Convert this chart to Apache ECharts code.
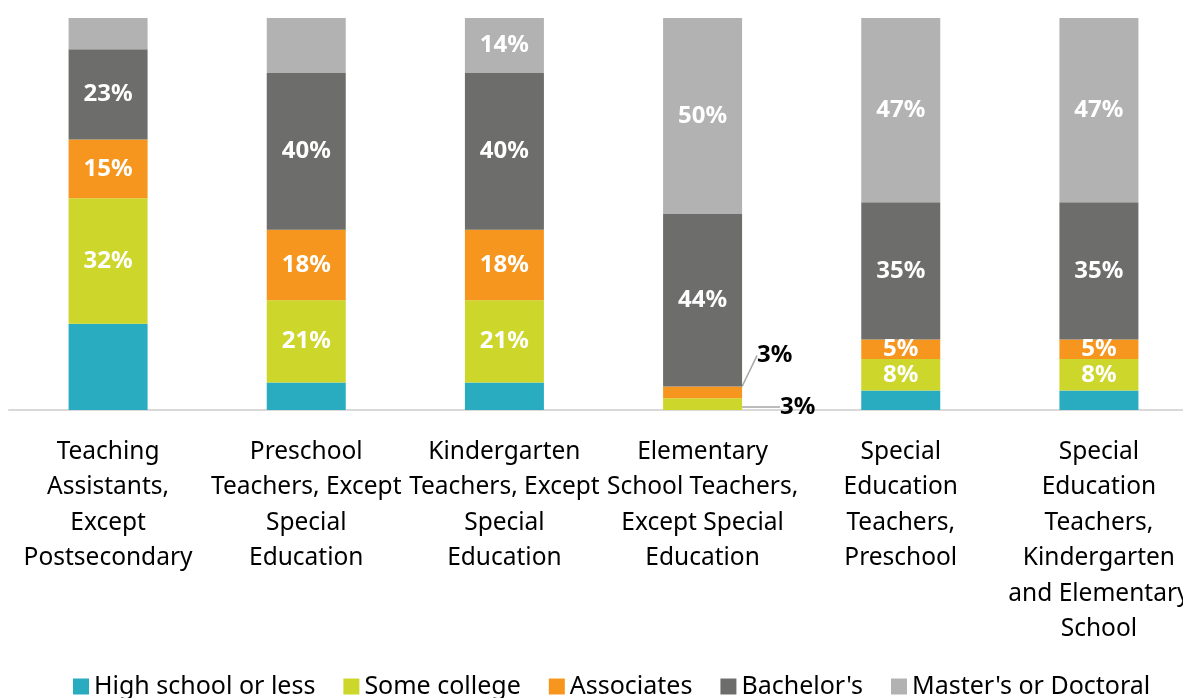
<!DOCTYPE html>
<html><head><meta charset="utf-8">
<script src="https://cdn.jsdelivr.net/npm/echarts@6/dist/echarts.min.js"></script>
<style>html,body{margin:0;padding:0;background:#fff}#c{width:1183px;height:698px}</style>
</head><body><div id="c"></div>
<script>
const categories = [
  "Teaching\nAssistants,\nExcept\nPostsecondary",
  "Preschool\nTeachers, Except\nSpecial\nEducation",
  "Kindergarten\nTeachers, Except\nSpecial\nEducation",
  "Elementary\nSchool Teachers,\nExcept Special\nEducation",
  "Special\nEducation\nTeachers,\nPreschool",
  "Special\nEducation\nTeachers,\nKindergarten\nand Elementary\nSchool"
];
const seriesNames = ["High school or less", "Some college", "Associates", "Bachelor's", "Master's or Doctoral"];
const highSchool = [22, 7, 7, 0, 5, 5];
const someCollege = [32, 21, 21, 3, 8, 8];
const associates = [15, 18, 18, 3, 5, 5];
const bachelors = [23, 40, 40, 44, 35, 35];
const masters = [8, 14, 14, 50, 47, 47];
// which values carry a label (as in the reference)
const showHS = [false, false, false, false, false, false];
const showSC = [true, true, true, true, true, true];
const showAS = [true, true, true, true, true, true];
const showBA = [true, true, true, true, true, true];
const showMA = [false, false, true, true, true, true];
const colors = ['#29abc0', '#cdd62a', '#f7961e', '#6d6e6c', '#b1b2b1'];
const FONT = '"Noto Sans", "Open Sans", sans-serif';

const chart = echarts.init(document.getElementById('c'), null, {renderer: 'canvas'});
const values = [highSchool, someCollege, associates, bachelors, masters];
const shows = [showHS, showSC, showAS, showBA, showMA];
const outsideOffsets = {1: [33, 3], 2: [10, -37]};

const series = seriesNames.map((name, si) => ({
  name, type: 'bar', stack: 'total', barWidth: 79,
  itemStyle: {color: colors[si]},
  emphasis: {disabled: true},
  data: values[si].map((v, i) => {
    const d = {value: v};
    const outside = (i === 3 && (si === 1 || si === 2));
    d.label = outside ? {
      show: true, position: 'right', color: '#000', fontWeight: 'bold', fontSize: 24, fontFamily: FONT
    } : {show: shows[si][i]};
    if (outside) d.labelLine = {show: true, lineStyle: {color: '#a6a6a6', width: 1.5}};
    return d;
  }),
  label: {show: true, position: 'inside', color: '#fff', fontWeight: 'bold', fontSize: 24, fontFamily: FONT,
    formatter: p => p.value + '%'},
  labelLayout: function (p) {
    if (p.dataIndex === 3 && outsideOffsets[si]) {
      return {dx: outsideOffsets[si][0], dy: outsideOffsets[si][1]};
    }
    return {};
  }
}));

chart.setOption({
  animation: false,
  color: colors,
  grid: {left: 9, right: -15, top: 18, bottom: 288, containLabel: false, outerBoundsMode: 'none'},
  legend: {
    bottom: -6, left: 68, itemWidth: 16, itemHeight: 16, itemGap: 28, icon: 'rect',
    textStyle: {fontSize: 25, fontFamily: FONT, color: '#000'},
    data: seriesNames
  },
  xAxis: {
    type: 'category', data: categories,
    axisLine: {lineStyle: {color: '#d9d9d9', width: 2}},
    axisTick: {show: false},
    axisLabel: {interval: 0, fontSize: 24.5, lineHeight: 35.5, color: '#000', fontFamily: FONT, margin: 24}
  },
  yAxis: {type: 'value', min: 0, max: 100, show: false, splitLine: {show: false}},
  series
});
</script></body></html>
